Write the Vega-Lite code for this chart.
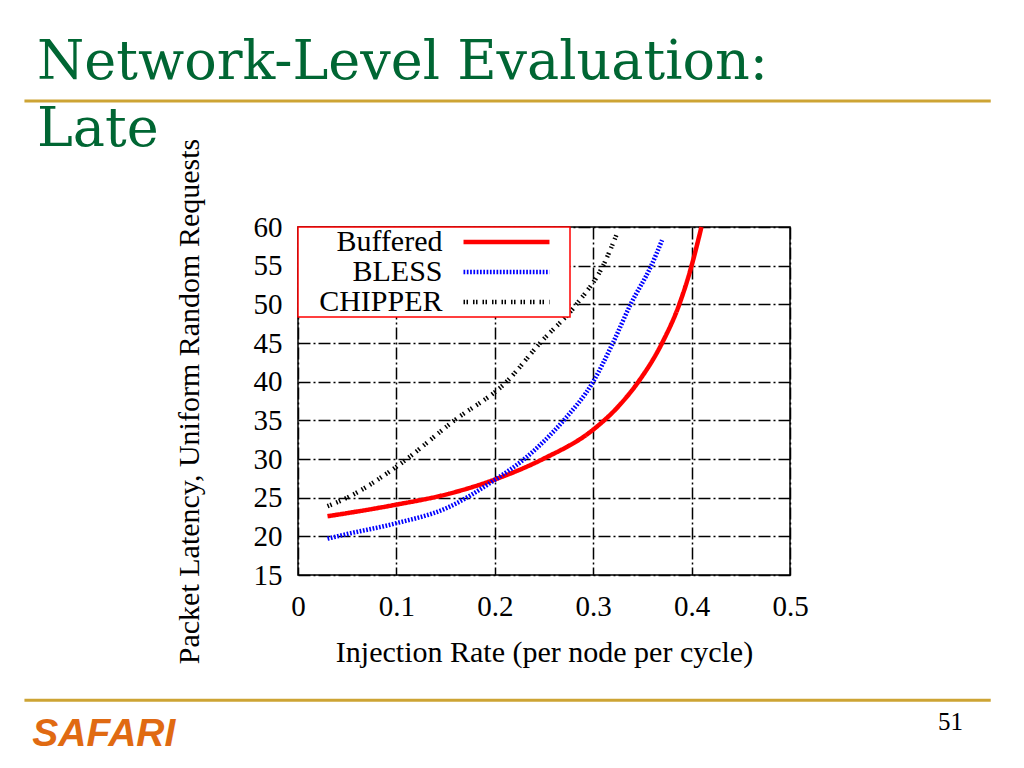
{
  "$schema": "https://vega.github.io/schema/vega-lite/v6.json",
  "width": 492,
  "height": 348,
  "autosize": "none",
  "padding": {"left": 298, "top": 227, "right": 234, "bottom": 193},
  "background": "white",
  "title": {
    "text": ["Network-Level Evaluation:", "Late"],
    "font": "DejaVu Serif",
    "fontSize": 54,
    "fontWeight": "normal",
    "color": "#006633",
    "anchor": "start",
    "frame": "group",
    "dx": -261,
    "lineHeight": 67,
    "offset": -58
  },
  "data": {
    "values": [
      {"rate": 0.03, "latency": 22.6, "series": "Buffered"},
      {"rate": 0.05, "latency": 23.0, "series": "Buffered"},
      {"rate": 0.1, "latency": 24.1, "series": "Buffered"},
      {"rate": 0.15, "latency": 25.4, "series": "Buffered"},
      {"rate": 0.2, "latency": 27.35, "series": "Buffered"},
      {"rate": 0.249, "latency": 30.0, "series": "Buffered"},
      {"rate": 0.3, "latency": 33.8, "series": "Buffered"},
      {"rate": 0.327, "latency": 37.0, "series": "Buffered"},
      {"rate": 0.346, "latency": 40.0, "series": "Buffered"},
      {"rate": 0.37, "latency": 45.0, "series": "Buffered"},
      {"rate": 0.3875, "latency": 50.0, "series": "Buffered"},
      {"rate": 0.4, "latency": 55.0, "series": "Buffered"},
      {"rate": 0.41, "latency": 60.0, "series": "Buffered"},
      {"rate": 0.03, "latency": 19.7, "series": "BLESS"},
      {"rate": 0.05, "latency": 20.3, "series": "BLESS"},
      {"rate": 0.1, "latency": 21.7, "series": "BLESS"},
      {"rate": 0.15, "latency": 23.6, "series": "BLESS"},
      {"rate": 0.2, "latency": 27.3, "series": "BLESS"},
      {"rate": 0.23, "latency": 30.0, "series": "BLESS"},
      {"rate": 0.25, "latency": 32.3, "series": "BLESS"},
      {"rate": 0.27, "latency": 35.0, "series": "BLESS"},
      {"rate": 0.3, "latency": 40.0, "series": "BLESS"},
      {"rate": 0.32, "latency": 45.0, "series": "BLESS"},
      {"rate": 0.338, "latency": 50.0, "series": "BLESS"},
      {"rate": 0.359, "latency": 55.0, "series": "BLESS"},
      {"rate": 0.37, "latency": 58.3, "series": "BLESS"},
      {"rate": 0.03, "latency": 23.9, "series": "CHIPPER"},
      {"rate": 0.05, "latency": 25.0, "series": "CHIPPER"},
      {"rate": 0.1, "latency": 29.0, "series": "CHIPPER"},
      {"rate": 0.159, "latency": 35.0, "series": "CHIPPER"},
      {"rate": 0.212, "latency": 40.0, "series": "CHIPPER"},
      {"rate": 0.246, "latency": 45.0, "series": "CHIPPER"},
      {"rate": 0.283, "latency": 50.0, "series": "CHIPPER"},
      {"rate": 0.31, "latency": 55.0, "series": "CHIPPER"},
      {"rate": 0.325, "latency": 59.4, "series": "CHIPPER"}
    ]
  },
  "layer": [
    {
      "mark": {"type": "line", "interpolate": "monotone", "strokeWidth": 4.5, "strokeCap": "butt"},
      "encoding": {
        "x": {
          "field": "rate",
          "type": "quantitative",
          "title": "Injection Rate (per node per cycle)",
          "scale": {"domain": [0, 0.5], "nice": false, "zero": false},
          "axis": {"values": [0, 0.1, 0.2, 0.3, 0.4, 0.5], "tickCount": 12, "format": ".1~f", "labelPadding": 17, "titlePadding": 16}
        },
        "y": {
          "field": "latency",
          "type": "quantitative",
          "title": "Packet Latency, Uniform Random Requests",
          "scale": {"domain": [15, 60], "nice": false, "zero": false},
          "axis": {"values": [15, 20, 25, 30, 35, 40, 45, 50, 55, 60], "tickCount": 12, "labelPadding": 16, "titlePadding": 49}
        },
        "color": {
          "field": "series",
          "type": "nominal",
          "sort": ["Buffered", "BLESS", "CHIPPER"],
          "scale": {"domain": ["Buffered", "BLESS", "CHIPPER"], "range": ["#ff0000", "#0000ff", "#000000"]},
          "legend": {"title": null}
        },
        "strokeDash": {
          "field": "series",
          "type": "nominal",
          "sort": ["Buffered", "BLESS", "CHIPPER"],
          "scale": {"domain": ["Buffered", "BLESS", "CHIPPER"], "range": [[1, 0], [1.7, 1.6], [1.5, 1.5, 1.5, 5]]},
          "legend": {"title": null}
        }
      }
    },
    {
      "data": {"values": [{}]},
      "mark": {"type": "rule", "color": "#CDA434", "strokeWidth": 3},
      "encoding": {
        "x": {"datum": -0.278},
        "x2": {"datum": 0.704},
        "y": {"datum": 76.3}
      }
    },
    {
      "data": {"values": [{}]},
      "mark": {"type": "rule", "color": "#CDA434", "strokeWidth": 3},
      "encoding": {
        "x": {"datum": -0.278},
        "x2": {"datum": 0.704},
        "y": {"datum": -1.2}
      }
    },
    {
      "data": {"values": [{}]},
      "mark": {"type": "text", "text": "SAFARI", "font": "Liberation Sans", "fontSize": 39, "fontWeight": "bold", "fontStyle": "italic", "color": "#E06A12", "align": "left", "baseline": "alphabetic"},
      "encoding": {
        "x": {"datum": -0.27},
        "y": {"datum": -7.05}
      }
    },
    {
      "data": {"values": [{}]},
      "mark": {"type": "text", "text": "51", "font": "Liberation Serif", "fontSize": 25, "fontWeight": "normal", "color": "black", "align": "left", "baseline": "alphabetic"},
      "encoding": {
        "x": {"datum": 0.6505},
        "y": {"datum": -5.0}
      }
    }
  ],
  "config": {
    "view": {"stroke": "black", "strokeWidth": 1.5},
    "axis": {
      "labelFont": "Liberation Serif",
      "labelFontSize": 29,
      "labelColor": "black",
      "labelOverlap": false,
      "labelFlush": false,
      "titleFont": "Liberation Serif",
      "titleFontSize": 30,
      "titleFontWeight": "normal",
      "titleColor": "black",
      "ticks": false,
      "domain": false,
      "grid": true,
      "gridColor": "black",
      "gridOpacity": 1,
      "gridWidth": 1.5,
      "gridDash": [12, 3, 2, 3]
    },
    "legend": {
      "orient": "top-left",
      "offset": 0,
      "padding": 0,
      "rowPadding": 0,
      "strokeColor": "#ff0000",
      "strokeWidth": 1.5,
      "fillColor": "white",
      "labelFont": "Liberation Serif",
      "labelFontSize": 30,
      "labelColor": "black",
      "labelAlign": "right",
      "labelOffset": -79,
      "labelLimit": 300,
      "symbolOffset": 193.5,
      "symbolType": "M-4,0H4M5,0H5",
      "symbolSize": 462,
      "symbolStrokeWidth": 4.5
    }
  }
}
